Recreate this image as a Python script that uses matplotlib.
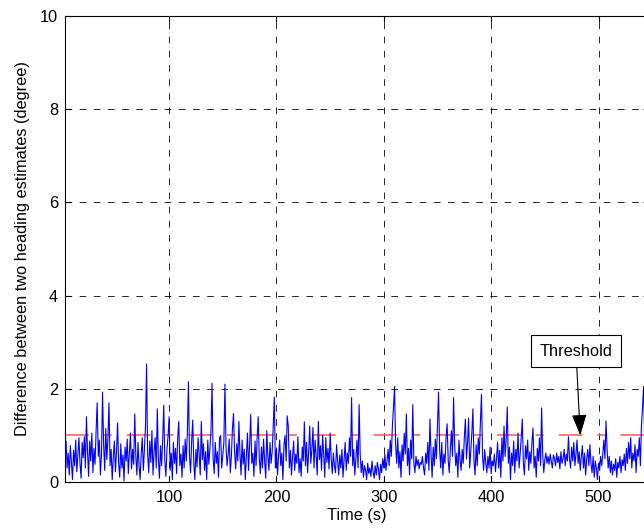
import numpy as np
import matplotlib
matplotlib.use("Agg")
import matplotlib.pyplot as plt

plt.rcParams['font.family'] = ['Liberation Sans', 'DejaVu Sans']

# heading difference, one sample per second starting at t = 3 s
heading_diff = [
    0.55, 0.88, 0.30, 0.62, 0.15, 0.78, 0.42, 0.05, 0.68, 0.35,
    0.90, 0.22, 0.58, 0.95, 0.40, 0.08, 0.85, 0.52, 0.97, 0.30,
    1.40, 0.65, 0.12, 0.88, 0.45, 1.05, 0.20, 0.72, 0.38, 1.10,
    1.70, 0.55, 0.90, 0.15, 0.60, 1.93, 0.80, 0.25, 1.15, 0.48,
    0.95, 1.70, 0.35, 0.70, 0.05, 0.52, 0.88, 0.22, 0.65, 1.27,
    0.40, 0.10, 0.82, 0.30, 0.58, 0.02, 0.75, 0.45, 0.92, 0.18,
    0.60, 1.05, 0.28, 0.70, 0.38, 1.46, 0.55, 0.15, 0.85, 0.35,
    0.05, 0.62, 0.95, 0.25, 0.70, 1.20, 2.53, 0.60, 0.20, 0.88,
    0.42, 1.10, 0.15, 0.65, 0.95, 0.30, 1.57, 0.50, 0.08, 0.78,
    0.35, 0.90, 1.65, 0.45, 0.12, 0.70, 0.98, 1.40, 0.25, 0.62,
    0.05, 0.85, 0.40, 0.72, 0.18, 0.95, 1.30, 0.35, 0.60, 0.10,
    0.78, 0.30, 0.92, 0.45, 1.05, 2.15, 0.55, 0.20, 0.88, 1.33,
    0.40, 0.05, 0.70, 0.32, 0.95, 0.60, 0.15, 1.30, 0.48, 0.82,
    0.25, 0.65, 0.05, 0.90, 0.38, 0.72, 1.10, 2.12, 0.50, 0.18,
    0.85, 0.40, 0.65, 0.10, 0.95, 1.00, 0.30, 0.58, 0.85, 2.10,
    0.75, 0.35, 0.60, 0.92, 0.20, 0.55, 1.15, 1.47, 0.65, 0.28,
    0.82, 0.45, 1.30, 0.60, 0.15, 0.90, 0.38, 0.70, 0.05, 0.58,
    1.05, 0.25, 0.80, 1.45, 0.40, 0.62, 0.12, 0.88, 0.35, 0.95,
    1.40, 0.50, 0.18, 0.75, 0.30, 0.92, 0.45, 0.08, 1.10, 0.55,
    0.25, 0.85, 0.40, 0.65, 1.20, 1.82, 0.30, 0.70, 0.15, 0.58,
    0.90, 0.35, 0.62, 0.05, 0.80, 1.00, 0.45, 1.42, 1.20, 0.30,
    0.68, 0.15, 0.55, 0.88, 0.25, 0.60, 0.40, 0.97, 0.20, 0.50,
    0.12, 0.75, 0.45, 1.29, 0.35, 0.85, 0.20, 0.65, 1.20, 0.40,
    0.70, 1.17, 0.30, 0.90, 0.55, 0.15, 1.30, 0.48, 0.78, 0.25,
    1.00, 0.60, 0.10, 0.95, 0.42, 0.72, 0.28, 1.05, 0.50, 0.18,
    0.62, 0.35, 0.20, 0.80, 0.45, 0.15, 0.58, 0.30, 0.70, 0.10,
    0.48, 0.85, 0.25, 0.62, 0.40, 0.95, 0.55, 1.81, 0.35, 0.70,
    0.15, 0.50, 0.90, 0.30, 1.66, 0.60, 0.20, 0.45, 0.10, 0.35,
    0.25, 0.05, 0.40, 0.18, 0.30, 0.12, 0.45, 0.22, 0.08, 0.35,
    0.15, 0.42, 0.28, 0.05, 0.38, 0.20, 0.50, 0.30, 0.60, 0.25,
    0.45, 0.70, 0.35, 0.90, 0.55, 1.20, 1.60, 2.05, 0.80, 0.40,
    0.95, 0.30, 0.65, 0.10, 0.80, 0.45, 1.05, 0.60, 1.46, 0.35,
    0.72, 0.15, 0.90, 0.50, 1.66, 0.40, 0.20, 0.55, 0.35, 0.48,
    0.28, 0.42, 0.38, 0.55, 0.30, 0.15, 0.62, 0.40, 0.85, 0.25,
    1.35, 0.60, 0.10, 0.75, 0.35, 0.92, 0.50, 1.20, 1.93, 0.70,
    0.30, 0.85, 0.15, 0.60, 0.40, 0.95, 1.25, 0.45, 0.20, 0.72,
    1.10, 0.55, 1.81, 0.80, 0.35, 0.62, 0.10, 0.90, 0.48, 0.25,
    0.70, 0.40, 0.95, 1.35, 0.50, 0.85, 1.37, 0.30, 0.65, 1.05,
    1.57, 0.45, 0.15, 0.80, 0.35, 0.95, 0.60, 1.30, 1.88, 0.55,
    0.25, 0.70, 0.40, 0.20, 0.55, 0.30, 0.75, 0.18, 0.45, 0.35,
    0.60, 0.22, 0.50, 0.85, 0.30, 0.68, 0.10, 0.95, 0.45, 1.20,
    0.55, 0.90, 1.61, 0.40, 0.75, 0.05, 0.62, 0.35, 0.88, 0.20,
    0.70, 0.45, 1.05, 0.30, 0.60, 0.95, 1.35, 0.40, 0.15, 0.78,
    0.50, 0.90, 0.25, 0.65, 0.40, 0.85, 1.16, 0.30, 0.55, 0.10,
    0.72, 0.45, 0.95, 0.35, 1.59, 0.60, 0.20, 0.48, 0.62, 0.40,
    0.55, 0.38, 0.60, 0.45, 0.30, 0.58, 0.50, 0.35, 0.62, 0.42,
    0.55, 0.28, 0.65, 0.40, 0.50, 0.70, 0.35, 0.60, 0.45, 0.97,
    0.50, 0.30, 0.75, 0.45, 0.85, 0.35, 0.60, 0.90, 0.40, 0.65,
    0.25, 0.55, 0.78, 0.30, 0.62, 0.15, 0.50, 0.70, 0.35, 0.80,
    0.40, 0.20, 0.55, 0.10, 0.45, 0.30, 0.05, 0.40, 0.25, 0.55,
    0.35, 0.60, 0.90, 0.50, 1.31, 0.70, 0.30, 0.55, 0.20, 0.45,
    0.15, 0.38, 0.25, 0.50, 0.10, 0.42, 0.30, 0.55, 0.20, 0.48,
    0.35, 0.60, 0.25, 0.72, 0.40, 0.85, 0.50, 0.95, 0.30, 0.62,
    0.45, 0.80, 0.20, 0.70, 0.55, 0.95, 0.35, 1.20, 1.60, 2.05,
    0.90, 0.40, 0.70, 1.10, 0.50,
]
t_start = 3
threshold = 1.0
xticks = [100, 200, 300, 400, 500]
yticks = [0, 2, 4, 6, 8, 10]

time = t_start + np.arange(len(heading_diff))

fig = plt.figure(figsize=(6.44, 5.31), dpi=100)
ax = fig.add_axes([0.1009, 0.0923, 0.9068, 0.8776])

# threshold as red dash-dot, signal on top
ax.plot(time, np.full(len(time), threshold), color='#ff5555', lw=1.1,
        linestyle=(0, (15.5, 9.8, 5.3, 9.8)), zorder=2)
ax.plot(time, heading_diff, color='#0000ff', lw=0.8, zorder=3)

ax.set_xlim(time[0], time[-1])
ax.set_ylim(0, 10)
ax.set_xticks(xticks)
ax.set_yticks(yticks)
ax.grid(True, color='black', linestyle=(0, (8, 9)), linewidth=0.6)
ax.tick_params(direction='in', top=True, right=True, length=4,
               labelsize=11.8, width=0.8)
ax.tick_params(axis='x', pad=6)
ax.tick_params(axis='y', pad=5)
for sp in ax.spines.values():
    sp.set_linewidth(0.8)

ax.set_xlabel('Time (s)', fontsize=11.8, labelpad=2)
ax.set_ylabel('Difference between two heading estimates (degree)',
              fontsize=11.8, labelpad=7)

ax.annotate('Threshold', xy=(483, threshold), xytext=(479, 2.81),
            ha='center', va='center', fontsize=11.8,
            bbox=dict(boxstyle='square,pad=0.5', fc='white', ec='black', lw=0.8),
            arrowprops=dict(arrowstyle='-|>,head_length=0.65,head_width=0.23',
                            color='black', lw=0.8, mutation_scale=20,
                            shrinkA=0, shrinkB=0),
            zorder=5)

plt.savefig('out.png', dpi=100)
